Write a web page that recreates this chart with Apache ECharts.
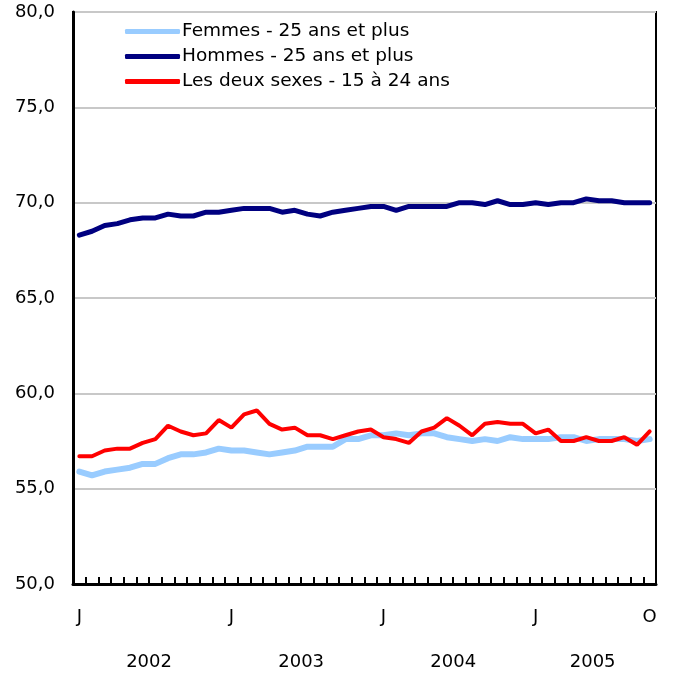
<!DOCTYPE html>
<html>
<head>
<meta charset="utf-8">
<script src="https://cdn.jsdelivr.net/npm/echarts@6/dist/echarts.min.js"></script>
<style>
  html, body { margin: 0; padding: 0; background: #fff; }
  #chart { width: 673px; height: 677px; }
</style>
</head>
<body>
<div id="chart"></div>
<script>
// mois : janvier 2002 a octobre 2005
var monthInitials = ["J", "F", "M", "A", "M", "J", "J", "A", "S", "O", "N", "D"];
var years = [2002, 2003, 2004, 2005];
var categories = [];
years.forEach(function (y) {
  for (var m = 0; m < 12; m++) {
    if (y === 2005 && m > 9) break;
    categories.push(y + "-" + (m + 1));
  }
});
var labelIndexes = [0, 12, 24, 36, 45];
var yearLabelPos = { 6: "2002", 18: "2003", 30: "2004", 41: "2005" };

var femmes = [55.9, 55.7, 55.9, 56.0, 56.1, 56.3, 56.3, 56.6, 56.8, 56.8, 56.9, 57.1,
  57.0, 57.0, 56.9, 56.8, 56.9, 57.0, 57.2, 57.2, 57.2, 57.6, 57.6, 57.8,
  57.8, 57.9, 57.8, 57.9, 57.9, 57.7, 57.6, 57.5, 57.6, 57.5, 57.7, 57.6,
  57.6, 57.6, 57.7, 57.7, 57.5, 57.6, 57.6, 57.6, 57.5, 57.6];
var hommes = [68.3, 68.5, 68.8, 68.9, 69.1, 69.2, 69.2, 69.4, 69.3, 69.3, 69.5, 69.5,
  69.6, 69.7, 69.7, 69.7, 69.5, 69.6, 69.4, 69.3, 69.5, 69.6, 69.7, 69.8,
  69.8, 69.6, 69.8, 69.8, 69.8, 69.8, 70.0, 70.0, 69.9, 70.1, 69.9, 69.9,
  70.0, 69.9, 70.0, 70.0, 70.2, 70.1, 70.1, 70.0, 70.0, 70.0];
var jeunes = [56.7, 56.7, 57.0, 57.1, 57.1, 57.4, 57.6, 58.3, 58.0, 57.8, 57.9, 58.6,
  58.2, 58.9, 59.1, 58.4, 58.1, 58.2, 57.8, 57.8, 57.6, 57.8, 58.0, 58.1,
  57.7, 57.6, 57.4, 58.0, 58.2, 58.7, 58.3, 57.8, 58.4, 58.5, 58.4, 58.4,
  57.9, 58.1, 57.5, 57.5, 57.7, 57.5, 57.5, 57.7, 57.3, 58.0];

var font = "DejaVu Sans";
var chart = echarts.init(document.getElementById("chart"));
var option = {
  animation: false,
  textStyle: { fontFamily: font },
  grid: {
    left: 73, right: 17, top: 12, bottom: 93,
    show: true, borderColor: "#000", borderWidth: 2
  },
  legend: {
    orient: "vertical",
    left: 120, top: 17,
    itemWidth: 55, itemHeight: 5, itemGap: 6,
    icon: "roundRect",
    textStyle: { fontFamily: font, fontSize: 18.5, color: "#000", padding: [0, 0, 0, -3] },
    data: ["Femmes - 25 ans et plus", "Hommes - 25 ans et plus", "Les deux sexes - 15 à 24 ans"]
  },
  xAxis: [{
    type: "category",
    data: categories,
    boundaryGap: true,
    axisLine: { lineStyle: { color: "#000", width: 3 } },
    axisTick: { show: true, inside: true, length: 7, interval: 0, lineStyle: { color: "#000", width: 2 } },
    axisLabel: {
      interval: function (i) { return labelIndexes.indexOf(i) >= 0; },
      formatter: function (v, i) { return monthInitials[i % 12]; },
      color: "#000", fontSize: 18, fontFamily: font, margin: 24
    },
    splitLine: { show: false }
  }, {
    type: "value",
    min: 0, max: 46, interval: 1,
    position: "bottom",
    axisLine: { show: false },
    axisTick: { show: false },
    splitLine: { show: false },
    axisLabel: {
      formatter: function (v) { return yearLabelPos[v] || ""; },
      color: "#000", fontSize: 18, fontFamily: font, margin: 69
    }
  }],
  yAxis: {
    type: "value",
    min: 50, max: 80, interval: 5,
    axisLine: { show: true, lineStyle: { color: "#000", width: 3 } },
    axisTick: { show: false },
    axisLabel: {
      formatter: function (v) { return v.toFixed(1).replace(".", ","); },
      color: "#000", fontSize: 18, fontFamily: font, margin: 18
    },
    splitLine: { show: true, lineStyle: { color: "#c8c8c8", width: 2 } }
  },
  series: [{
    name: "Femmes - 25 ans et plus",
    type: "line", data: femmes, symbol: "none",
    lineStyle: { color: "#99ccff", width: 6, cap: "round" },
    itemStyle: { color: "#99ccff" }
  }, {
    name: "Hommes - 25 ans et plus",
    type: "line", data: hommes, symbol: "none",
    lineStyle: { color: "#000080", width: 5, cap: "round" },
    itemStyle: { color: "#000080" }
  }, {
    name: "Les deux sexes - 15 à 24 ans",
    type: "line", data: jeunes, symbol: "none",
    lineStyle: { color: "#ff0000", width: 4, cap: "round" },
    itemStyle: { color: "#ff0000" }
  }]
};
chart.setOption(option);
</script>
</body>
</html>
